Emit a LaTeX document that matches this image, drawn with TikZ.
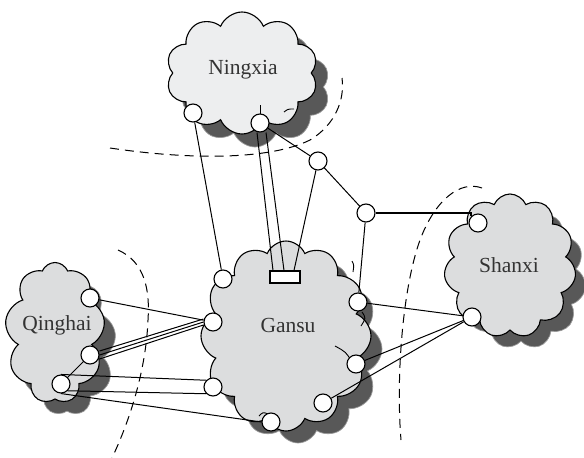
\documentclass[tikz,border=0pt]{standalone}
\usepackage{fontspec}
\setmainfont{Liberation Serif}
\usetikzlibrary{shapes.symbols}
\definecolor{cloudfill}{HTML}{DCDDDE}
\definecolor{cloudlight}{HTML}{EDEEEF}
\definecolor{shadowfill}{HTML}{585858}
\definecolor{labelgray}{HTML}{333333}
\begin{document}
\begin{tikzpicture}[x=1pt,y=-1pt,
  region/.style={cloud, cloud puffs=#1, cloud puff arc=135, cloud ignores aspect,
    draw=black, line width=1.1pt, fill=cloudfill, inner sep=0pt},
  regionshadow/.style={cloud, cloud puffs=#1, cloud puff arc=135, cloud ignores aspect,
    draw=shadowfill!60!white, line width=0.7pt, fill=shadowfill, inner sep=0pt},
  regionname/.style={font=\fontsize{21.5}{23}\selectfont, text=labelgray, inner sep=0pt},
  port/.style={circle, draw, fill=white, minimum size=18pt, inner sep=0pt, line width=1.1pt},
  link/.style={line width=1pt},
  trunk/.style={line width=1.8pt},
  border/.style={line width=1pt, dash pattern=on 9pt off 6pt},
  inner/.style={line width=0.9pt}
]
\useasboundingbox (0,0) rectangle (584,458);

% shadows of the regions
\node[regionshadow=10, minimum width=150pt, minimum height=120pt] (nxs) at (255,87) {};
\node[regionshadow=12, minimum width=168pt, minimum height=188pt] (gss) at (298,349) {};
\node[regionshadow=9, minimum width=98pt, minimum height=139pt] (qhs) at (67,346) {};
\node[regionshadow=11, minimum width=130pt, minimum height=142pt] (sxs) at (521,278) {};

% regions
\node[region=10, fill=cloudlight, minimum width=152pt, minimum height=122pt] (nx) at (242,73) {};
\node[region=12, minimum width=170pt, minimum height=190pt] (gs) at (286,336) {};
\node[region=9, minimum width=100pt, minimum height=141pt] (qh) at (55,333) {};
\node[region=11, minimum width=132pt, minimum height=144pt] (sx) at (510,266) {};

% inner strokes of the cloud outlines
\draw[inner] (260,105) -- (260,118);
\draw[inner] (284,112) .. controls (288,109) .. (294,109);
\draw[inner] (352,261) .. controls (354,265) .. (353,272);
\draw[inner] (362,312) .. controls (366,318) .. (361,326);
\draw[inner] (335,346) .. controls (346,352) .. (352,362);
\draw[inner] (259,416) .. controls (263,412) .. (268,414);

\node[regionname] (nxname) at (243,70) {Ningxia};
\node[regionname] (gsname) at (288,325) {Gansu};
\node[regionname] (qhname) at (57,325) {Qinghai};
\node[regionname] (sxname) at (509,265) {Shanxi};

% dashed borders between the regions
\draw[border] (110,148) .. controls (190,160) and (270,160) .. (310,140)
  .. controls (335,125) and (345,100) .. (342,78);
\draw[border] (118,250) .. controls (145,262) and (150,290) .. (148,320)
  .. controls (146,370) and (130,420) .. (112,458);
\draw[border] (482,188) .. controls (460,180) and (435,200) .. (420,240)
  .. controls (402,290) and (396,380) .. (401,440);

% ports
\node[port] (n1) at (193,113) {};
\node[port] (n2) at (260,123) {};
\node[port] (r1) at (318,161) {};
\node[port] (r2) at (366,213) {};
\node[port] (g1) at (223,279) {};
\node[port] (g2) at (213,322) {};
\node[port] (g3) at (358,302) {};
\node[port] (g4) at (356,364) {};
\node[port] (g5) at (213,387) {};
\node[port] (g6) at (323,403) {};
\node[port] (g7) at (271,422) {};
\node[port] (q1) at (90,298) {};
\node[port] (q2) at (90,355) {};
\node[port] (q3) at (61,384) {};
\node[port] (s1) at (478,223) {};
\node[port] (s2) at (472,317) {};
\node[draw, fill=white, line width=1.1pt, minimum width=30pt, minimum height=12pt, inner sep=0pt] (box) at (285,277) {};

% links
\draw[link] (n1) -- (g1);
\draw[link] ([xshift=-3pt]n2.south) -- ([xshift=-12pt]box.north);
\draw[link] ([xshift=6pt]n2.south) -- ([xshift=-1pt]box.north);
\draw[link] (n2) -- (r1);
\draw[link] (r1) -- ([xshift=9pt]box.north);
\draw[link] (r1) -- (r2);
\draw[trunk] (r2.east) -- (s1.north west |- r2.east) -- (s1.north west);
\draw[link] (r2) -- (g3);
\draw[link] (g3) -- (s2);
\draw[link] (s2) -- (g4);
\draw[link] (s2) -- (g6);
\draw[link] (q1) -- (g2);
\draw[link] ([yshift=-4pt]q2.east) -- ([yshift=-3pt]g2.west);
\draw[link] (q2.east) -- (g2.west);
\draw[link] ([yshift=4pt]q2.east) -- ([yshift=3pt]g2.west);
\draw[link] (q3) -- (q2);
\draw[link] (q3.north) -- (g5.north west);
\draw[link] (q3.south east) -- (g5.south west);
\draw[link] (q3.south) -- (g7.west);
\end{tikzpicture}
\end{document}
